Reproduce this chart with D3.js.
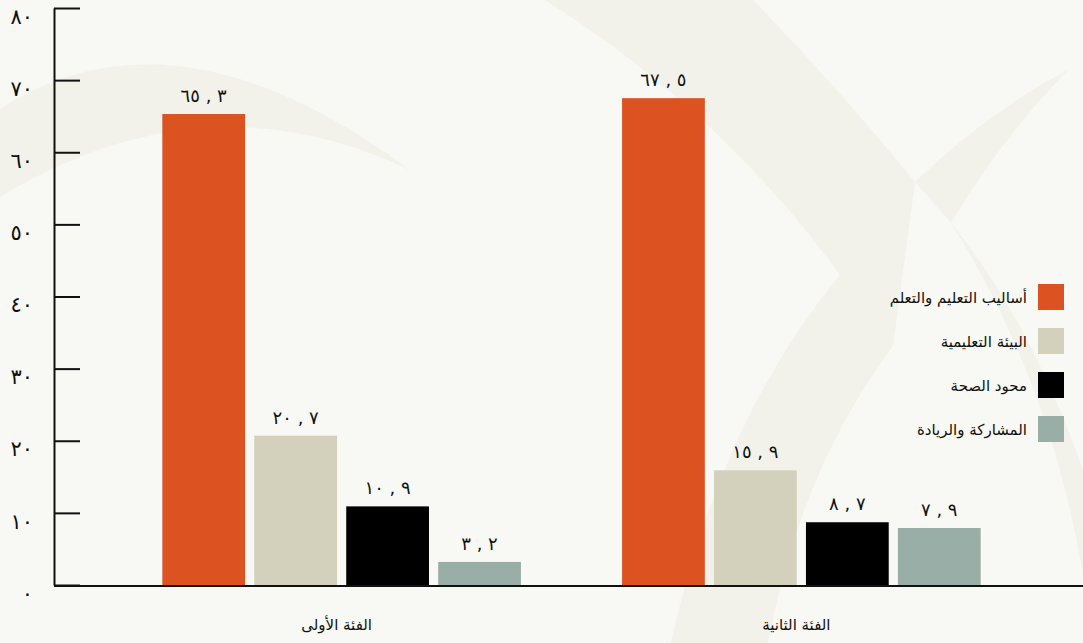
<!DOCTYPE html>
<html>
<head>
<meta charset="utf-8">
<script src="https://cdn.jsdelivr.net/npm/d3@7"></script>
<style>
  body { margin: 0; background: #f8f8f4; }
  svg { display: block; }
  text { font-family: "DejaVu Sans", sans-serif; fill: #111; }
</style>
</head>
<body>
<script>
// الفئات والسلاسل
var categories = ["الفئة الأولى", "الفئة الثانية"];
var series = ["أساليب التعليم والتعلم", "البيئة التعليمية", "محود الصحة", "المشاركة والريادة"];
var colors = ["#dc5220", "#d3d1bb", "#000000", "#98aea7"];

// القيم لكل سلسلة (الفئة الأولى، الفئة الثانية)
var teaching = [65.3, 67.5];
var environment = [20.7, 15.9];
var health = [10.9, 8.7];
var participation = [3.2, 7.9];

var tickValues = [0, 10, 20, 30, 40, 50, 60, 70, 80];
var tickLabels = ["٠", "١٠", "٢٠", "٣٠", "٤٠", "٥٠", "٦٠", "٧٠", "٨٠"];

var values = [teaching, environment, health, participation];

var W = 1083, H = 643;
var margin = {top: 8, bottom: 58, left: 54};

var svg = d3.select("body").append("svg")
    .attr("width", W)
    .attr("height", H);

svg.append("rect").attr("width", W).attr("height", H).attr("fill", "#f8f8f4");

// علامة مائية باهتة في الخلفية
var wm = svg.append("g").attr("fill", "#f2f1ea");
wm.append("path").attr("d", "M0,109 Q175,-4 410,170 Q205,72 0,197 Z");
wm.append("path").attr("d", "M545,0 L753,0 Q840,90 915,182 L893,346 Q800,470 768,643 L671,643 Q720,420 840,275 Q720,110 545,0 Z");
wm.append("path").attr("d", "M915,182 Q990,110 1068,70 Q1000,140 951,223 Z");
wm.append("path").attr("d", "M951,223 Q1050,380 1083,574 L1083,470 Q1030,320 951,223 Z");

// المقاييس
var y = d3.scaleLinear().domain([0, 80]).range([H - margin.bottom, margin.top]);

var x0 = d3.scaleBand().domain(categories)
    .range([52, 1091])
    .paddingInner(0.22)
    .paddingOuter(0.24);

var x1 = d3.scaleBand().domain(d3.range(series.length))
    .range([0, x0.bandwidth()])
    .paddingInner(0.1);

// تحويل القيمة إلى أرقام هندية مع فاصلة
function arabicNum(v) {
  var digits = "٠١٢٣٤٥٦٧٨٩";
  var s = v.toFixed(1).replace(/[0-9]/g, function(c) { return digits[+c]; });
  var parts = s.split(".");
  return parts[0] + " , " + parts[1];
}

// خط المحور الأفقي
svg.append("line")
    .attr("x1", margin.left).attr("x2", W)
    .attr("y1", y(0) + 1).attr("y2", y(0) + 1)
    .attr("stroke", "#111").attr("stroke-width", 2);

// المحور العمودي
var yAxis = d3.axisLeft(y)
    .tickValues(tickValues)
    .tickFormat(function(d, i) { return tickLabels[i]; })
    .tickSizeInner(-26)
    .tickSizeOuter(0)
    .tickPadding(21);

var gy = svg.append("g")
    .attr("transform", "translate(" + margin.left + ",0)")
    .call(yAxis);
gy.select(".domain").attr("stroke", "#111").attr("stroke-width", 2);
gy.selectAll(".tick line").attr("stroke", "#111").attr("stroke-width", 2);
gy.selectAll(".tick text")
    .attr("dy", "0.72em")
    .attr("direction", "ltr")
    .attr("unicode-bidi", "bidi-override")
    .style("font-size", "21px")
    .attr("fill", "#111");

// الأعمدة
var groups = svg.selectAll("g.cat")
    .data(categories)
    .enter().append("g")
    .attr("class", "cat")
    .attr("transform", function(d) { return "translate(" + x0(d) + ",0)"; });

groups.each(function(cat, ci) {
  var g = d3.select(this);
  var rows = series.map(function(s, si) { return {si: si, v: values[si][ci]}; });

  g.selectAll("rect")
    .data(rows)
    .enter().append("rect")
    .attr("x", function(d) { return x1(d.si); })
    .attr("y", function(d) { return y(d.v); })
    .attr("width", x1.bandwidth())
    .attr("height", function(d) { return y(0) - y(d.v); })
    .attr("fill", function(d) { return colors[d.si]; });

  g.selectAll("text.val")
    .data(rows)
    .enter().append("text")
    .attr("class", "val")
    .attr("x", function(d) { return x1(d.si) + x1.bandwidth() / 2; })
    .attr("y", function(d) { return y(d.v) - 12; })
    .attr("text-anchor", "middle")
    .attr("direction", "ltr")
    .attr("unicode-bidi", "bidi-override")
    .style("font-size", "18px")
    .text(function(d) { return arabicNum(d.v); });
});

// أسماء الفئات
svg.selectAll("text.cat-label")
    .data(categories)
    .enter().append("text")
    .attr("class", "cat-label")
    .attr("x", function(d) { return x0(d) + x0.bandwidth() / 2 - 5; })
    .attr("y", 630)
    .attr("text-anchor", "middle")
    .style("font-size", "15px")
    .text(function(d) { return d; });

// وسيلة الإيضاح
var legend = svg.append("g").attr("transform", "translate(1038,284)");
var item = legend.selectAll("g")
    .data(series)
    .enter().append("g")
    .attr("transform", function(d, i) { return "translate(0," + (i * 44) + ")"; });

item.append("rect")
    .attr("width", 26).attr("height", 26)
    .attr("fill", function(d, i) { return colors[i]; });

item.append("text")
    .attr("x", -11)
    .attr("y", 13)
    .attr("dy", "0.4em")
    .attr("text-anchor", "end")
    .style("font-size", "15px")
    .text(function(d) { return d; });
</script>
</body>
</html>
